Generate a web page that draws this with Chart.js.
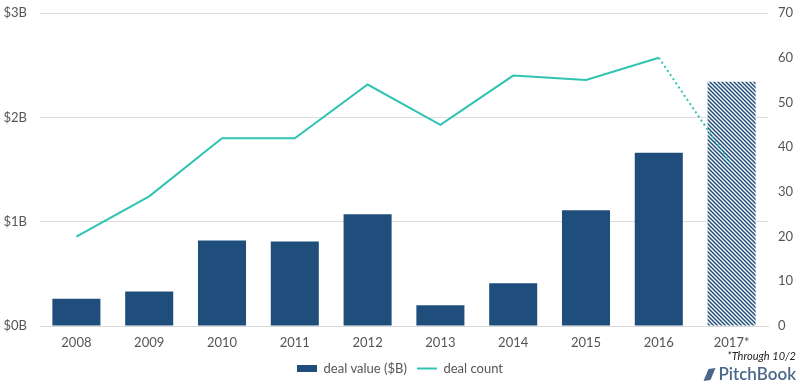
<!DOCTYPE html>
<html><head><meta charset="utf-8">
<script src="https://cdn.jsdelivr.net/npm/chart.js@4.4.0/dist/chart.umd.min.js"></script>
<style>html,body{margin:0;padding:0;background:#fff}#wrap{width:800px;height:385px;position:relative}</style>
</head><body><div id="wrap"><canvas id="c" width="800" height="385"></canvas></div>
<script>
const categories = ['2008','2009','2010','2011','2012','2013','2014','2015','2016','2017*'];
const dealValue = [0.26,0.33,0.82,0.81,1.07,0.20,0.41,1.11,1.66,2.34];
const dealCount = [20,29,42,42,54,45,56,55,60,36];
const leftTicks = ['$0B','$1B','$2B','$3B'];
const footnote = '*Through 10/2';
const brand = 'PitchBook';

const BLUE = '#1f4e7d';
const TEAL = '#2fc4b2';
const FONT = 'Lato, "Open Sans", sans-serif';

function hatch(){
  const p = document.createElement('canvas'); p.width = 4; p.height = 4;
  const g = p.getContext('2d');
  g.fillStyle = '#ffffff'; g.fillRect(0,0,4,4);
  g.strokeStyle = BLUE; g.lineWidth = 1.5;
  g.beginPath();
  g.moveTo(-1,-1); g.lineTo(5,5);
  g.moveTo(-1,3); g.lineTo(1,5);
  g.moveTo(3,-1); g.lineTo(5,1);
  g.stroke();
  return document.getElementById('c').getContext('2d').createPattern(p,'repeat');
}
const pat = hatch();

const extras = {
  id:'extras',
  afterDraw(chart){
    const ctx = chart.ctx;
    ctx.save();
    ctx.fillStyle = '#222';
    ctx.font = 'italic 11px ' + FONT;
    ctx.textAlign = 'right'; ctx.textBaseline = 'middle';
    ctx.fillText(footnote, 796, 356);
    ctx.fillStyle = '#4a6688';
    ctx.font = '600 17px ' + FONT;
    ctx.textBaseline = 'middle';
    ctx.fillText(brand, 796, 375);
    const w = ctx.measureText(brand).width;
    const x0 = 796 - w - 17, y0 = 375;
    ctx.beginPath();
    ctx.moveTo(x0+2, y0+6); ctx.lineTo(x0+7, y0-6); ctx.lineTo(x0+14, y0-7);
    ctx.lineTo(x0+9, y0+5); ctx.closePath(); ctx.fill();
    ctx.restore();
  }
};

function noPad(s){ s.paddingTop = 0; s.paddingBottom = 0; }

new Chart(document.getElementById('c'), {
  data:{
    labels: categories,
    datasets:[
      {type:'bar', label:'deal value ($B)', data:dealValue, yAxisID:'y',
       backgroundColor: dealValue.map((v,i)=> i===dealValue.length-1 ? pat : BLUE),
       categoryPercentage:0.66, barPercentage:1, order:2},
      {type:'line', label:'deal count', data:dealCount, yAxisID:'y2',
       borderColor:TEAL, backgroundColor:TEAL, borderWidth:2, pointRadius:0, tension:0, order:1,
       segment:{borderDash: c => c.p1DataIndex === dealCount.length-1 ? [2,3] : undefined}}
    ]
  },
  options:{
    responsive:false, animation:false,
    layout:{padding:{top:13,left:0,right:0,bottom:0}},
    plugins:{
      tooltip:{enabled:false},
      legend:{position:'bottom',
        labels:{usePointStyle:true, pointStyleWidth:20, boxHeight:7, color:'#555', padding:10,
          font:{family:FONT,size:13},
          sort:(a,b)=>a.datasetIndex-b.datasetIndex,
          generateLabels(chart){
            return [
              {text:'deal value ($B)', fillStyle:BLUE, strokeStyle:BLUE, lineWidth:0, pointStyle:'rect', datasetIndex:0, fontColor:'#555'},
              {text:'deal count', fillStyle:TEAL, strokeStyle:TEAL, lineWidth:2, pointStyle:'line', datasetIndex:1, fontColor:'#555'}
            ];
          }}}
    },
    scales:{
      x:{grid:{display:false, drawTicks:false}, border:{color:'#d9d9d9'},
         afterFit(s){ s.height = 26; },
         ticks:{color:'#555', font:{family:FONT,size:13}, padding:9}},
      y:{position:'left', min:0, max:3, 
         afterBuildTicks(s){ s.ticks = [0,1,2,3].map(v=>({value:v})); },
         afterFit(s){ s.width = 40; noPad(s); },
         grid:{color:'#dcdcdc', drawTicks:false}, border:{display:false},
         ticks:{color:'#555', font:{family:FONT,size:13}, padding:13, callback:(v)=>leftTicks[v]}},
      y2:{position:'right', min:0, max:70,
         afterBuildTicks(s){ s.ticks = [0,10,20,30,40,50,60,70].map(v=>({value:v})); },
         afterFit(s){ s.width = 32; noPad(s); },
         grid:{display:false, drawTicks:false}, border:{display:false},
         ticks:{color:'#555', font:{family:FONT,size:13}, padding:10, align:'center'}}
    }
  },
  plugins:[extras]
});
</script></body></html>
